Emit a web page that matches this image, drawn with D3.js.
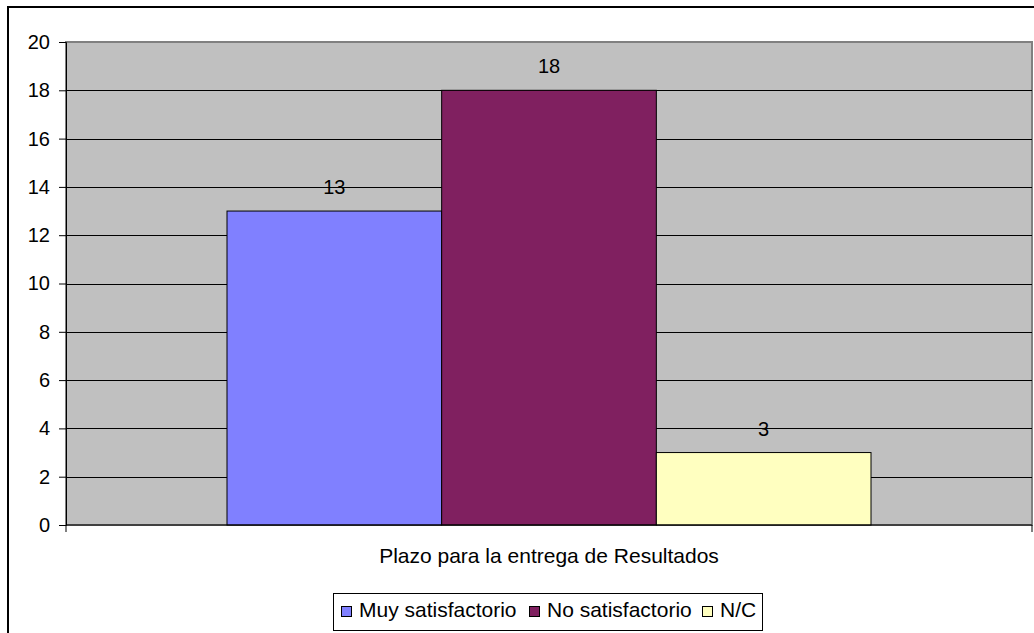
<!DOCTYPE html>
<html>
<head>
<meta charset="utf-8">
<script src="https://cdn.jsdelivr.net/npm/d3@7"></script>
<style>
    body { margin: 0; background: #fff; }
    svg text { font-family: "Liberation Sans", Arial, sans-serif; fill: #000; }
</style>
</head>
<body>
<script>
// datos del grafico
const categorias = ['Plazo para la entrega de Resultados'];
const series = ['Muy satisfactorio', 'No satisfactorio', 'N/C'];
const valores = [13, 18, 3];
const yTicks = [0, 2, 4, 6, 8, 10, 12, 14, 16, 18, 20];
const colores = ['#8080ff', '#802060', '#ffffc0'];

const svg = d3.select('body').append('svg')
    .attr('width', 1034)
    .attr('height', 633);

// marco exterior
svg.append('rect')
    .attr('x', 8).attr('y', 7)
    .attr('width', 1100).attr('height', 700)
    .attr('fill', 'none')
    .attr('stroke', '#000')
    .attr('stroke-width', 2);

const plot = { left: 66, right: 1032, top: 42, bottom: 525 };

const yScale = d3.scaleLinear()
    .domain([0, 20])
    .range([plot.bottom, plot.top]);

const x0 = d3.scaleBand()
    .domain(categorias)
    .range([plot.left, plot.right]);

// gap width 150% como en Excel
const x1 = d3.scaleBand()
    .domain(series)
    .range([0, x0.bandwidth()])
    .paddingInner(0)
    .paddingOuter(0.75);

// fondo gris
svg.append('rect')
    .attr('x', plot.left).attr('y', plot.top)
    .attr('width', plot.right - plot.left)
    .attr('height', plot.bottom - plot.top)
    .attr('fill', '#c0c0c0')
    .attr('stroke', '#808080')
    .attr('stroke-width', 2);

// lineas de cuadricula
svg.append('g')
    .selectAll('line')
    .data(yTicks.filter(d => d > 0 && d < 20))
    .enter()
    .append('line')
    .attr('x1', plot.left).attr('x2', plot.right)
    .attr('y1', d => Math.round(yScale(d)) + 0.5)
    .attr('y2', d => Math.round(yScale(d)) + 0.5)
    .attr('stroke', '#000');

// barras
const g = svg.append('g');
g.selectAll('rect')
    .data(valores)
    .enter()
    .append('rect')
    .attr('x', (d, i) => x0(categorias[0]) + x1(series[i]))
    .attr('y', d => yScale(d))
    .attr('width', x1.bandwidth())
    .attr('height', d => plot.bottom - yScale(d))
    .attr('fill', (d, i) => colores[i])
    .attr('stroke', '#000')
    .attr('stroke-width', 1);

// etiquetas de valores
g.selectAll('text')
    .data(valores)
    .enter()
    .append('text')
    .attr('x', (d, i) => x0(categorias[0]) + x1(series[i]) + x1.bandwidth() / 2)
    .attr('y', d => yScale(d) - 17)
    .attr('text-anchor', 'middle')
    .style('font-size', '20px')
    .text(d => d);

// eje y
const yAxis = svg.append('g')
    .attr('transform', `translate(${plot.left},0)`)
    .call(d3.axisLeft(yScale).tickValues(yTicks).tickSize(7).tickPadding(9));
yAxis.select('.domain').attr('stroke', '#000');
yAxis.selectAll('.tick line').attr('stroke', '#000');
yAxis.selectAll('text')
    .style('font-size', '20px')
    .style('font-family', '"Liberation Sans", Arial, sans-serif');

// eje x
const xAxis = svg.append('g')
    .attr('transform', `translate(0,${plot.bottom})`)
    .call(d3.axisBottom(x0).tickSize(0).tickPadding(23));
xAxis.select('.domain').remove();
xAxis.selectAll('text')
    .style('font-size', '21px')
    .style('font-family', '"Liberation Sans", Arial, sans-serif');
svg.append('line')
    .attr('x1', plot.left).attr('x2', plot.right)
    .attr('y1', plot.bottom).attr('y2', plot.bottom)
    .attr('stroke', '#000');
svg.selectAll('.xtick')
    .data([plot.left, plot.right])
    .enter()
    .append('line')
    .attr('class', 'xtick')
    .attr('x1', d => d).attr('x2', d => d)
    .attr('y1', plot.bottom).attr('y2', plot.bottom + 7)
    .attr('stroke', '#000');

// leyenda
const legend = svg.append('g');
legend.append('rect')
    .attr('x', 333.5).attr('y', 593.5)
    .attr('width', 429).attr('height', 37)
    .attr('fill', '#fff')
    .attr('stroke', '#000');
const legendX = [341, 529, 702];
const items = legend.selectAll('.item')
    .data(series)
    .enter()
    .append('g')
    .attr('class', 'item')
    .attr('transform', (d, i) => `translate(${legendX[i]},606)`);
items.append('rect')
    .attr('x', 0.5).attr('y', 0.5)
    .attr('width', 10).attr('height', 10)
    .attr('fill', (d, i) => colores[i])
    .attr('stroke', '#000');
items.append('text')
    .attr('x', 18)
    .attr('y', 11)
    .style('font-size', '21px')
    .text(d => d);
</script>
</body>
</html>
